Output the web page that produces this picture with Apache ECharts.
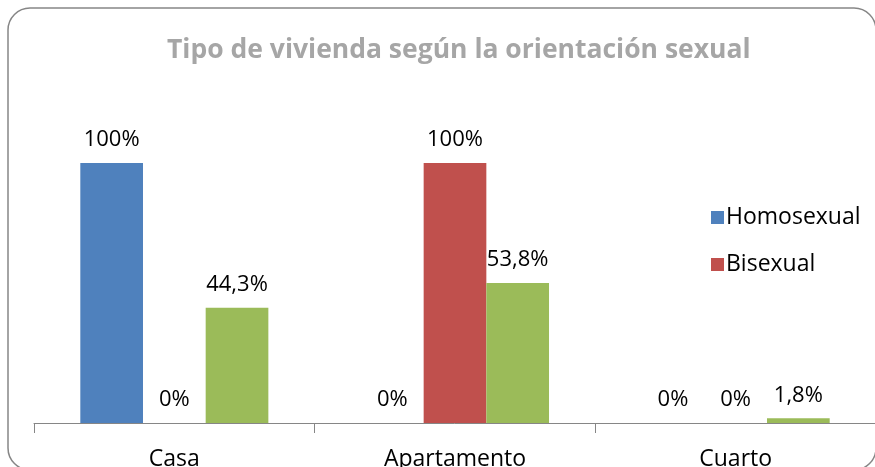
<!DOCTYPE html>
<html>
<head>
<meta charset="utf-8">
<script src="https://cdn.jsdelivr.net/npm/echarts@6/dist/echarts.min.js"></script>
<style>
  html, body { margin: 0; padding: 0; background: #fff; }
  #chart { width: 875px; height: 467px; }
</style>
</head>
<body>
<div id="chart"></div>
<script>
// Tipo de vivienda según la orientación sexual
var categories = ['Casa', 'Apartamento', 'Cuarto'];
var homosexual = [100, 0, 0];
var bisexual = [0, 100, 0];
var heterosexual = [44.3, 53.8, 1.8];
var legendNames = ['Homosexual', 'Bisexual'];

var font = 'Open Sans, Noto Sans, sans-serif';

function pct(p) {
  return String(p.value).replace('.', ',') + '%';
}

var labelStyle = {
  show: true,
  position: 'top',
  distance: 12,
  color: '#000',
  fontSize: 22,
  fontFamily: font,
  formatter: pct
};

var chart = echarts.init(document.getElementById('chart'), null, { renderer: 'canvas' });
chart.setOption({
  animation: false,
  title: {
    text: 'Tipo de vivienda según la orientación sexual',
    left: 162,
    top: 32,
    textStyle: { color: '#A6A6A6', fontSize: 26.5, fontWeight: 'bold', fontFamily: font }
  },
  graphic: [{
    type: 'rect',
    shape: { x: 8, y: 8, width: 868, height: 462, r: 22 },
    style: { fill: 'none', stroke: '#868686', lineWidth: 1.5 },
    silent: true
  }],
  legend: {
    data: legendNames,
    orient: 'vertical',
    left: 706,
    top: 201,
    itemWidth: 13,
    itemHeight: 13,
    itemGap: 24,
    icon: 'rect',
    textStyle: { color: '#000', fontSize: 23, fontFamily: font, padding: [0, 0, 0, -3] }
  },
  grid: { left: 34, right: -1, top: 163, bottom: 44, containLabel: false, outerBoundsMode: 'none' },
  xAxis: {
    type: 'category',
    data: categories,
    axisLine: { lineStyle: { color: '#868686', width: 1 } },
    axisTick: { show: true, length: 10, lineStyle: { color: '#868686' } },
    axisLabel: { color: '#000', fontSize: 23, fontFamily: font, margin: 25 }
  },
  yAxis: {
    type: 'value',
    min: 0,
    max: 100,
    show: false
  },
  color: ['#4F81BD', '#C0504D', '#9BBB59'],
  series: [
    { name: 'Homosexual', type: 'bar', data: homosexual, barGap: '0%', barCategoryGap: '33%', label: labelStyle },
    { name: 'Bisexual', type: 'bar', data: bisexual, label: labelStyle },
    { name: 'Heterosexual', type: 'bar', data: heterosexual, label: labelStyle }
  ]
});
</script>
</body>
</html>
